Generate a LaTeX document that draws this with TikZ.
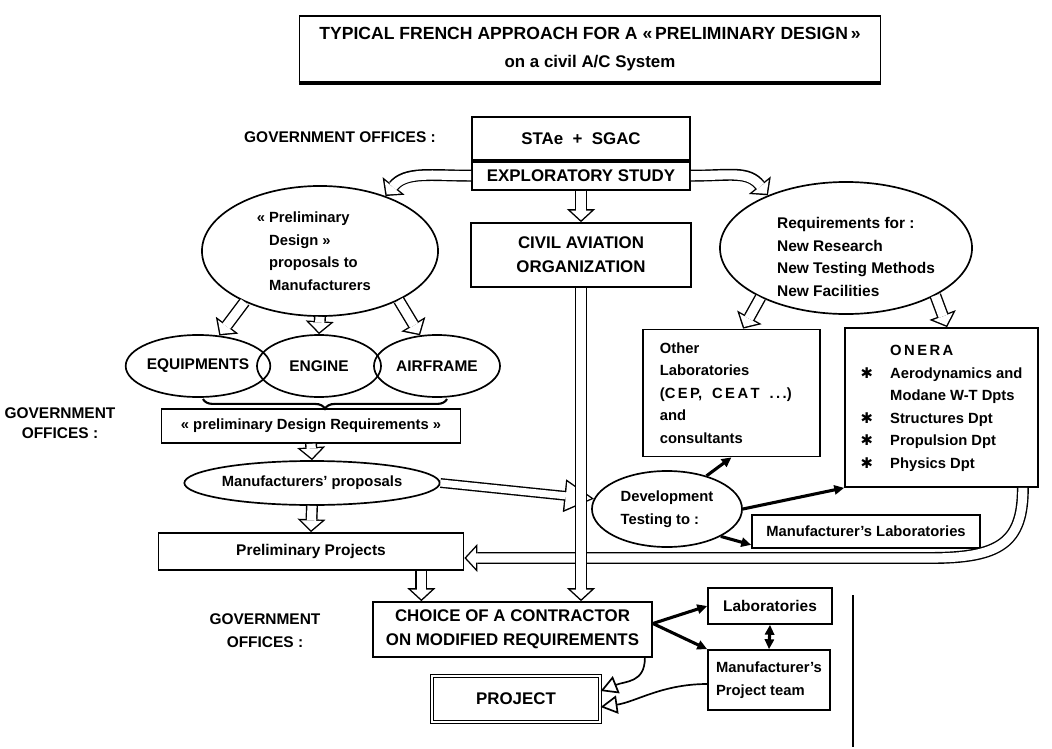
\documentclass[tikz,border=0pt]{standalone}
\usepackage{fontspec}
\setmainfont{Liberation Sans}
\newfontfamily\starfont{DejaVu Sans}
\usepackage{tikz}
\usetikzlibrary{shapes.geometric, arrows.meta, positioning, decorations.pathreplacing}

% hollow arrows: black body first, white inside on top
\tikzset{
    fat/.style={line width=8.5pt, -{Triangle[length=9.2pt, width=20pt, line width=0pt]}},
    fat in/.style={white, line width=6.5pt, shorten >=1.4pt, -{Triangle[length=6.8pt, width=14.8pt, line width=0pt]}},
    wide/.style={line width=7pt, -{Triangle[length=21pt, width=23.5pt, line width=0pt]}},
    wide in/.style={white, line width=5pt, shorten >=2pt, -{Triangle[length=18pt, width=20pt, line width=0pt]}}
}
\newcommand{\fatarrow}[2][fat]{\draw[#1] #2; \draw[#1 in] #2;}
\newcommand{\onstar}{{\starfont\mdseries ✱}}

\begin{document}
\begin{tikzpicture}[
    x=0.025cm, y=-0.025cm,
    font=\bfseries\fontsize{10.5}{16}\selectfont,
    box/.style={draw, line width=1.2pt, rectangle, align=center, inner sep=2pt},
    oval/.style={draw, line width=1.2pt, ellipse, align=left, inner sep=0pt},
    caps/.style={font=\bfseries\fontsize{12}{17}\selectfont},
    mid/.style={font=\bfseries\fontsize{11}{14}\selectfont},
    thickarrow/.style={line width=2.2pt, -{Triangle[length=7pt, width=6.5pt]}},
    openarrow/.style={line width=1.2pt, -{Triangle[open, length=12pt, width=13pt, fill=white]}}
]
    \fill [white] (0,0) rectangle (1052,749);
    \useasboundingbox (0,0) rectangle (1052,749);

    % Title
    \node [box, minimum width=14.525cm, minimum height=1.65cm, font=\bfseries\fontsize{12.5}{20}\selectfont] (title) at (590,49)
        {TYPICAL FRENCH APPROACH FOR A «\,PRELIMINARY DESIGN\,»\\{\fontsize{12}{14}\selectfont on a civil A/C System}};
    \draw [line width=2.4pt] (title.south west) -- (title.south east);

    % Components, top
    \node [mid] (govtop) at (340,137) {GOVERNMENT OFFICES :};
    \node [box, caps, minimum width=5.45cm, minimum height=1.075cm] (stae) at (581,138.5) {STAe \ + \ SGAC};
    \node [box, caps, minimum width=5.45cm, minimum height=0.7cm, below=0pt of stae] (explo) {EXPLORATORY STUDY};
    \node [oval, minimum width=5.9cm, minimum height=3.25cm] (prelim) at (320,251)
        {\llap{« }Preliminary\\Design »\\proposals to\\Manufacturers};
    \node [box, caps, minimum width=5.5cm, minimum height=1.6cm] (civil) at (581,255) {CIVIL AVIATION\\ORGANIZATION};
    \node [oval, minimum width=6.3cm, minimum height=3.3cm] (reqs) at (846,248) {};
    \node [align=left, font=\bfseries\fontsize{11}{16.3}\selectfont] (reqtext) at ([xshift=0.25cm, yshift=-0.225cm]reqs.center)
        {Requirements for :\\New Research\\New Testing Methods\\New Facilities};

    % Components, left column
    \node [oval, mid, align=center, minimum width=3.25cm, minimum height=1.55cm] (equip) at (198,366) {EQUIPMENTS};
    \node [oval, mid, align=center, minimum width=3.1cm, minimum height=1.55cm] (engine) at (319,366) {ENGINE};
    \node [oval, mid, align=center, minimum width=3.15cm, minimum height=1.55cm] (airframe) at (437,366) {AIRFRAME};
    \coordinate (braceL) at (203,399);
    \coordinate (braceR) at (447,399);
    \node [mid, align=center] (govmid) at (60,423) {GOVERNMENT\\OFFICES :};
    \node [box, minimum width=7.475cm, minimum height=0.85cm] (pdr) at (311,426) {« preliminary Design Requirements »};
    \node [oval, minimum width=5.35cm, minimum height=1.1cm] (manuf) at (312,483) {Manufacturers' proposals};
    \node [box, font=\bfseries\fontsize{11}{16}\selectfont, minimum width=7.625cm, minimum height=0.925cm] (prelproj) at (311,551.5) {Preliminary Projects};

    % Components, laboratories
    \node [oval, minimum width=3.75cm, minimum height=1.9cm] (dev) at (667,509) {Development\\Testing to :};
    \node [box, align=left, inner xsep=12pt, text width=3.58cm, minimum height=3.175cm] (otherlab) at (731.5,393)
        {Other\\Laboratories\\(C\,E\,P, \ C\,E\,A\,T \ .\,.\,.)\\and\\consultants};
    \node [box, inner xsep=9pt, minimum width=4.825cm, minimum height=3.975cm] (onera) at (941.5,407.5)
        {\begin{tabular}{@{}p{21pt}@{}l@{}}
            & O\,N\,E\,R\,A\\
            \onstar & Aerodynamics and\\
            & Modane W-T Dpts\\
            \onstar & Structures Dpt\\
            \onstar & Propulsion Dpt\\
            \onstar & Physics Dpt
        \end{tabular}};
    \node [box, minimum width=5.7cm, minimum height=0.825cm] (manlab) at (866,531.5) {Manufacturer's Laboratories};

    % Components, bottom
    \node [box, caps, minimum width=6.975cm, minimum height=1.375cm] (choice) at (512.5,629.5) {CHOICE OF A CONTRACTOR\\ON MODIFIED REQUIREMENTS};
    \node [align=center, font=\bfseries\fontsize{11}{16.4}\selectfont] (govbot) at (265,631) {GOVERNMENT\\OFFICES :};
    \node [box, font=\bfseries\fontsize{11}{16}\selectfont, minimum width=3.1cm, minimum height=0.9cm] (labs) at (770,606) {Laboratories};
    \node [box, align=left, minimum width=3.05cm, minimum height=1.5cm] (mpt) at (769,680) {Manufacturer's\\Project team};
    \node [box, caps, double, double distance=1.6pt, line width=0.8pt, minimum width=4.2cm, minimum height=1.15cm] (project) at (516,699) {PROJECT};
    \coordinate (ruletop) at (853,595);
    \coordinate (rulebot) at (853,747);

    % 1. Exploratory study outwards
    \fatarrow{(explo.west) .. controls +(-40,0) and +(20,-25) .. (prelim.40)}
    \fatarrow{(explo.east) .. controls +(40,0) and +(-20,-25) .. (reqs.146)}
    \fatarrow{(explo.south) -- (civil.north)}

    % 2. Preliminary design down to the projects
    \fatarrow{(prelim.214) -- (equip.55)}
    \fatarrow{(prelim.south) -- (engine.north)}
    \fatarrow{(prelim.-32) -- (airframe.119)}
    \draw [line width=1.5pt, decorate, decoration={brace, mirror, amplitude=7pt}] (braceL) -- (braceR);
    \fatarrow{(pdr.south) -- (manuf.north)}
    \fatarrow{(manuf.south) -- (prelproj.north)}
    \coordinate (ppout) at ([xshift=-1.075cm]prelproj.south east);
    \fatarrow{(ppout) -- (ppout |- choice.north)}

    % 3. Requirements to the laboratories
    \fatarrow{(reqs.210) -- ([xshift=0.29cm]otherlab.north)}
    \fatarrow{(reqs.-28) -- ([xshift=0.14cm]onera.north)}

    % 4. Testing loop, drawn under the long arrow
    \fatarrow[wide]{(manuf.east) -- (dev.172)}
    \coordinate (bend) at (930,558);
    \fatarrow{([xshift=-0.4cm]onera.south east) .. controls +(0,55) and +(70,0) .. (bend) -- ([yshift=-0.1625cm]prelproj.east)}
    \fatarrow{(civil.south) -- (civil.south |- choice.north)}

    % Development testing to the laboratories
    \draw [thickarrow] (dev.40) -- (otherlab.south);
    \draw [thickarrow] (dev.east) -- (onera.south west);
    \draw [thickarrow] (dev.-27) -- ([yshift=0.1cm]manlab.south west);

    % 5. Contractor, teams and project
    \coordinate (cout) at ([yshift=0.15cm]choice.east);
    \draw [thickarrow] (cout) -- (labs.west);
    \draw [thickarrow] (cout) -- (mpt.north west);
    \draw [thickarrow, {Triangle[length=7pt, width=6.5pt]}-{Triangle[length=7pt, width=6.5pt]}] (labs.south) -- (mpt.north);
    \draw [openarrow] ([xshift=-0.2cm]choice.south east) .. controls +(0,25) and +(25,-10) .. ([yshift=0.2cm]project.east);
    \draw [openarrow] ([yshift=-0.1cm]mpt.west) .. controls +(-45,0) and +(35,-5) .. ([yshift=-0.2cm]project.east);
    \draw [line width=1.2pt] (ruletop) -- (rulebot);

\end{tikzpicture}
\end{document}
